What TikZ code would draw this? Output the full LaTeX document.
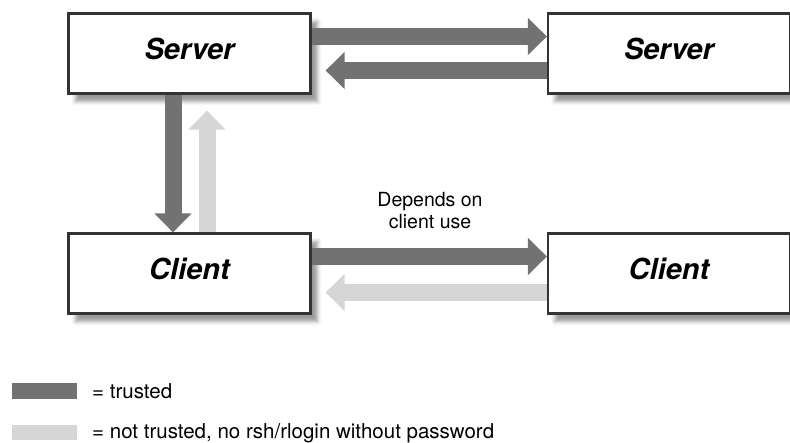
\documentclass[tikz,border=0pt]{standalone}
\usepackage{fontspec}
\setmainfont{TeX Gyre Heros}
\usetikzlibrary{shadows.blur,arrows.meta}
\definecolor{trusted}{HTML}{727272}
\definecolor{untrusted}{HTML}{D6D6D6}
\definecolor{edge}{HTML}{333333}
\tikzset{
  hostbox/.style={draw=edge, line width=2.2pt, fill=white, minimum width=242pt, minimum height=80pt,
    inner sep=0pt, text height=21pt, text depth=9pt,
    font=\bfseries\itshape\fontsize{29}{32}\selectfont,
    blur shadow={shadow xshift=7pt, shadow yshift=-8pt, shadow blur radius=4pt, shadow opacity=40}},
  fatarrow/.style={line width=17pt, -{Triangle[length=19pt,width=36pt]}},
  dark/.style={fatarrow, draw=trusted},
  light/.style={fatarrow, draw=untrusted},
  note/.style={font=\fontsize{19.5}{22}\selectfont, inner sep=0pt},
  keytext/.style={font=\fontsize{20.5}{23}\selectfont, inner sep=0pt, anchor=west}
}
\begin{document}
\begin{tikzpicture}[x=1pt,y=-1pt]
\useasboundingbox (0,0) rectangle (790,443);
% hosts
\node[hostbox] (s1) at (189.5,53.5) {Server};
\node[hostbox] (s2) at (669,53.5) {Server};
\node[hostbox] (c1) at (189.5,273.5) {Client};
\node[hostbox] (c2) at (669,273.5) {Client};
% trust relations between the servers
\draw[dark] ([yshift=17pt]s1.east) -- ([yshift=17pt]s2.west);
\draw[dark] ([yshift=-17pt]s2.west) -- ([xshift=14pt,yshift=-17pt]s1.east);
% server and its client
\draw[dark] ([xshift=-16.5pt]s1.south) -- ([xshift=-16.5pt]c1.north);
\draw[light] ([xshift=17.5pt]c1.north) -- ([xshift=17.5pt,yshift=-16pt]s1.south);
% between the clients
\draw[dark] ([yshift=17pt]c1.east) -- ([yshift=17pt]c2.west);
\draw[light] ([yshift=-19pt]c2.west) -- ([xshift=14pt,yshift=-19pt]c1.east);
\node[note, align=center] (dep) at (430,211) {Depends on\\client use};
% legend
\fill[trusted] (12,383) rectangle (77,399) coordinate (kd);
\fill[untrusted] (12,425) rectangle (77,440) coordinate (kl);
\node[keytext] (lt) at (92,391.5) {= trusted};
\node[keytext] (ln) at (92,433) {= not trusted, no rsh/rlogin without password};
\end{tikzpicture}
\end{document}
